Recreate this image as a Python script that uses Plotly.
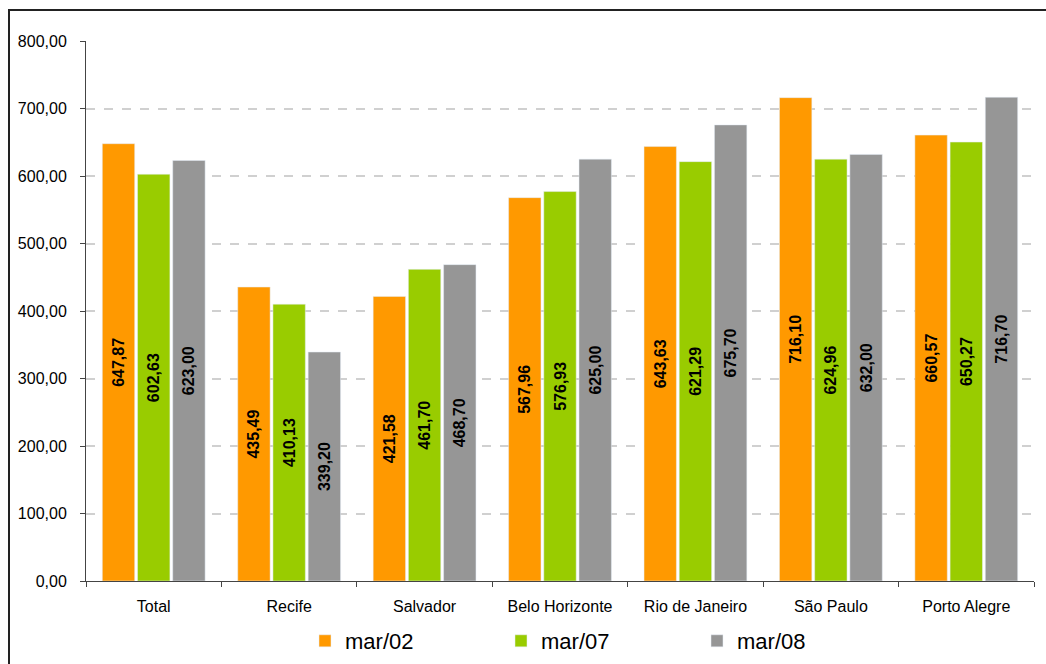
import plotly.graph_objects as go

# Average values per city, three reference months
cities = ["Total", "Recife", "Salvador", "Belo Horizonte", "Rio de Janeiro", "São Paulo", "Porto Alegre"]
mar02 = [647.87, 435.49, 421.58, 567.96, 643.63, 716.10, 660.57]
mar07 = [602.63, 410.13, 461.70, 576.93, 621.29, 624.96, 650.27]
mar08 = [623.00, 339.20, 468.70, 625.00, 675.70, 632.00, 716.70]

series = [("mar/02", mar02, "#FF9900"), ("mar/07", mar07, "#99CC00"), ("mar/08", mar08, "#969696")]

W, H = 1046, 664
ml, mr, mt, mb = 86, 12, 41, 83
pw, ph = W - ml - mr, H - mt - mb

fig = go.Figure()
for name, vals, color in series:
    fig.add_trace(go.Bar(
        name=name, x=cities, y=vals, marker_color=color,
        text=[f"{v:.2f}".replace(".", ",") for v in vals],
        textposition="inside", insidetextanchor="middle", textangle=-90,
        textfont=dict(family="Arial, Liberation Sans", size=16, color="#000000", weight="bold"),
        constraintext="none",
        hoverinfo="skip",
    ))

# Outer chart frame (left and top edges visible, rest runs off the page)
fig.add_shape(type="rect", xref="paper", yref="paper",
              x0=(9 - ml) / pw, x1=(W + 10 - ml) / pw,
              y0=-(H + 10 - mt - ph) / ph, y1=1 + (mt - 10) / ph,
              line=dict(color="#222222", width=2), fillcolor="rgba(0,0,0,0)", layer="below")

fig.update_layout(
    width=W, height=H,
    margin=dict(l=ml, r=mr, t=mt, b=mb, autoexpand=False),
    paper_bgcolor="white", plot_bgcolor="white",
    barmode="group", bargap=0.22, bargroupgap=0.08,
    separators=",.",
    font=dict(family="Arial, Liberation Sans", color="#000000"),
    showlegend=True,
    legend=dict(orientation="h", x=(305 - ml) / pw, xanchor="left", y=-(641 - mt - ph) / ph, yanchor="middle",
                font=dict(size=22), entrywidth=151, entrywidthmode="pixels",
                traceorder="normal"),
    xaxis=dict(showline=True, linecolor="#444444", linewidth=1, automargin=False,
               ticks="outside", tickson="boundaries", ticklen=5, tickcolor="#444444",
               tickfont=dict(size=16), ticklabelstandoff=11, showgrid=False, fixedrange=True),
    yaxis=dict(range=[0, 800], dtick=100, tickformat=".2f", automargin=False,
               showline=True, linecolor="#444444", linewidth=1,
               ticks="outside", ticklen=5, tickcolor="#444444",
               tickfont=dict(size=16), ticklabelstandoff=10,
               showgrid=True, gridcolor="#D0D0D0", griddash="dash", gridwidth=1.5,
               zeroline=False, fixedrange=True),
)

fig.write_html("out.html")
